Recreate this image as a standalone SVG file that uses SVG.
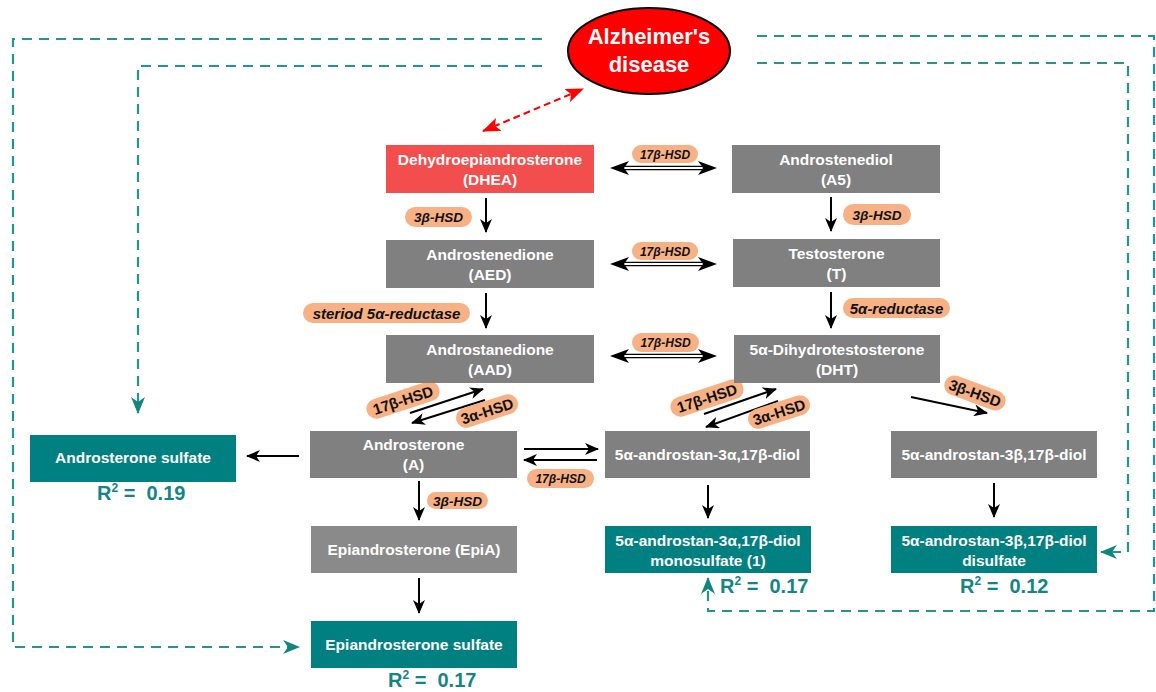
<svg xmlns="http://www.w3.org/2000/svg" width="1156" height="692" viewBox="0 0 1156 692">
<style>
.n{font-family:"Liberation Sans",Arial,sans-serif;font-weight:bold;font-size:15.5px;fill:#ffffff;text-anchor:middle}
.az{font-size:22px}
.g{fill:#808080}
.tl{fill:#008080}
.pill{fill:#F7B184}
.pt{font-family:"Liberation Sans",Arial,sans-serif;font-weight:bold;font-style:italic;fill:#111;text-anchor:middle}
.up{font-style:normal;font-size:15px}
.r2{font-family:"Liberation Sans",Arial,sans-serif;font-weight:bold;font-size:20px;fill:#138585}
.ar{stroke:#000;stroke-width:2;fill:none;marker-end:url(#ah)}
.dt{stroke:#22958f;stroke-width:2.2;fill:none;stroke-dasharray:10,7}
.sh{stroke:#000;stroke-width:1.4}
</style>
<defs>
<marker id="ah" markerUnits="userSpaceOnUse" markerWidth="14" markerHeight="12" refX="13" refY="6" orient="auto"><path d="M0,0 L14,6 L0,12 L4,6 Z" fill="#000"/></marker>
<marker id="aht" markerUnits="userSpaceOnUse" markerWidth="17" markerHeight="14" refX="16" refY="7" orient="auto"><path d="M0,0 L17,7 L0,14 L5,7 Z" fill="#12857f"/></marker>
<marker id="ahr" markerUnits="userSpaceOnUse" markerWidth="18" markerHeight="14" refX="17" refY="7" orient="auto-start-reverse"><path d="M0,0 L18,7 L0,14 L4,7 Z" fill="#ff0000"/></marker>
<g id="dbl">
<line class="sh" x1="624" y1="-1.6" x2="703" y2="-1.6"/>
<line class="sh" x1="624" y1="1.6" x2="703" y2="1.6"/>
<path d="M610,0 L629,-7 L624,0 L629,7 Z M717,0 L698,-7 L703,0 L698,7 Z" fill="#000"/>
</g>
</defs>
<rect width="1156" height="692" fill="#ffffff"/>

<g id="connectors">
<path class="dt" d="M542,39 H13 V647 H299" marker-end="url(#aht)"/>
<path class="dt" d="M542,66 H138 V413" marker-end="url(#aht)"/>
<path class="dt" d="M757,36 H1154 V611 H708 V578" marker-end="url(#aht)"/>
<path class="dt" d="M757,63 H1128 V552 H1101" marker-end="url(#aht)"/>
<path d="M483,131 L583,89" stroke="#ff0000" stroke-width="2" stroke-dasharray="7,4" fill="none" marker-start="url(#ahr)" marker-end="url(#ahr)"/>

<use href="#dbl" y="168"/>
<use href="#dbl" y="264"/>
<use href="#dbl" y="356"/>

<path class="ar" d="M486,198 V232"/>
<path class="ar" d="M486,293 V328"/>
<path class="ar" d="M831,197 V231"/>
<path class="ar" d="M831,292 V328"/>
<path class="ar" d="M419,481 V520"/>
<path class="ar" d="M419,578 V613"/>
<path class="ar" d="M708,485 V518"/>
<path class="ar" d="M994,483 V517"/>
<path class="ar" d="M299,456 H247"/>
<path class="ar" d="M524,449 H598"/>
<path class="ar" d="M597,460 H524"/>
<path class="ar" d="M410,413 L483,389"/>
<path class="ar" d="M485,400 L412,423"/>
<path class="ar" d="M704,414 L776,389"/>
<path class="ar" d="M778,401 L706,427"/>
<path class="ar" d="M911,397 L987,413"/>
</g>

<g id="enzymes">
<rect class="pill" x="632" y="145" width="66" height="18" rx="9"/><text class="pt" x="665" y="158.5" font-size="12">17β-HSD</text>
<rect class="pill" x="632" y="242" width="66" height="18" rx="9"/><text class="pt" x="665" y="255.5" font-size="12">17β-HSD</text>
<rect class="pill" x="632" y="333" width="67" height="19" rx="9.5"/><text class="pt" x="665.5" y="347" font-size="12">17β-HSD</text>
<rect class="pill" x="405" y="207" width="67" height="20" rx="10"/><text class="pt" x="438.5" y="222" font-size="13.5">3β-HSD</text>
<rect class="pill" x="303" y="303" width="167" height="20" rx="10"/><text class="pt" x="386.5" y="318.5" font-size="15">steriod 5α-reductase</text>
<rect class="pill" x="843" y="204" width="68" height="21" rx="10.5"/><text class="pt" x="877" y="219.5" font-size="13.5">3β-HSD</text>
<rect class="pill" x="843" y="298" width="107" height="20" rx="10"/><text class="pt" x="896.5" y="313.5" font-size="15">5α-reductase</text>
<rect class="pill" x="527" y="469" width="67" height="19" rx="9.5"/><text class="pt" x="560.5" y="483" font-size="12">17β-HSD</text>
<rect class="pill" x="427" y="492" width="61" height="17" rx="8.5"/><text class="pt" x="457.5" y="505.5" font-size="13.5">3β-HSD</text>
<g transform="translate(403,400) rotate(-18)"><rect class="pill" x="-38" y="-10" width="76" height="20" rx="10"/><text class="pt up" x="0" y="5.5">17β-HSD</text></g>
<g transform="translate(487,411) rotate(-18)"><rect class="pill" x="-32" y="-10" width="64" height="20" rx="10"/><text class="pt up" x="0" y="5.5">3α-HSD</text></g>
<g transform="translate(707,398) rotate(-18)"><rect class="pill" x="-38" y="-10" width="76" height="20" rx="10"/><text class="pt up" x="0" y="5.5">17β-HSD</text></g>
<g transform="translate(779,412) rotate(-18)"><rect class="pill" x="-32" y="-10" width="64" height="20" rx="10"/><text class="pt up" x="0" y="5.5">3α-HSD</text></g>
<g transform="translate(975,393) rotate(20)"><rect class="pill" x="-32" y="-10" width="64" height="20" rx="10"/><text class="pt up" x="0" y="5.5">3β-HSD</text></g>
</g>

<g id="alzheimers">
<ellipse cx="649" cy="51" rx="81" ry="43" fill="#ff0000" stroke="#000" stroke-width="2"/>
<text class="n az" x="649" y="44">Alzheimer's</text>
<text class="n az" x="649" y="72">disease</text>
</g>

<g id="dhea"><rect x="386" y="145" width="208" height="48" fill="#F24E4E"/><text class="n" x="490" y="165">Dehydroepiandrosterone</text><text class="n" x="490" y="185">(DHEA)</text></g>
<g id="a5"><rect class="g" x="732" y="145" width="208" height="48"/><text class="n" x="836" y="165">Androstenediol</text><text class="n" x="836" y="185">(A5)</text></g>
<g id="aed"><rect class="g" x="386" y="240" width="208" height="48"/><text class="n" x="490" y="260">Androstenedione</text><text class="n" x="490" y="280">(AED)</text></g>
<g id="t"><rect class="g" x="733" y="239" width="207" height="48"/><text class="n" x="836.5" y="259">Testosterone</text><text class="n" x="836.5" y="279">(T)</text></g>
<g id="aad"><rect class="g" x="386" y="335" width="208" height="48"/><text class="n" x="490" y="355">Androstanedione</text><text class="n" x="490" y="375">(AAD)</text></g>
<g id="dht"><rect class="g" x="734" y="335" width="206" height="48"/><text class="n" x="837" y="355">5α-Dihydrotestosterone</text><text class="n" x="837" y="375">(DHT)</text></g>
<g id="a"><rect class="g" x="310" y="431" width="207" height="47"/><text class="n" x="413.5" y="450">Androsterone</text><text class="n" x="413.5" y="470">(A)</text></g>
<g id="diol3a"><rect class="g" x="605" y="431" width="205" height="47"/><text class="n" x="707.5" y="459.5">5α-androstan-3α,17β-diol</text></g>
<g id="diol3b"><rect class="g" x="891" y="431" width="206" height="47"/><text class="n" x="994" y="459.5">5α-androstan-3β,17β-diol</text></g>
<g id="as"><rect class="tl" x="30" y="435" width="206" height="47"/><text class="n" x="133" y="463">Androsterone sulfate</text><text class="r2" x="97" y="500" xml:space="preserve">R<tspan font-size="12" dy="-8">2</tspan><tspan dy="8"> =  0.19</tspan></text></g>
<g id="epia"><rect x="311" y="526" width="206" height="47" fill="#8a8a8a"/><text class="n" x="414" y="555">Epiandrosterone (EpiA)</text></g>
<g id="mono"><rect class="tl" x="605" y="526" width="206" height="47"/><text class="n" x="708" y="546">5α-androstan-3α,17β-diol</text><text class="n" x="708" y="566">monosulfate (1)</text><text class="r2" x="720" y="593" xml:space="preserve">R<tspan font-size="12" dy="-8">2</tspan><tspan dy="8"> =  0.17</tspan></text></g>
<g id="di"><rect class="tl" x="891" y="526" width="206" height="47"/><text class="n" x="994" y="546">5α-androstan-3β,17β-diol</text><text class="n" x="994" y="566">disulfate</text><text class="r2" x="960" y="593" xml:space="preserve">R<tspan font-size="12" dy="-8">2</tspan><tspan dy="8"> =  0.12</tspan></text></g>
<g id="eas"><rect class="tl" x="311" y="621" width="206" height="47"/><text class="n" x="414" y="650">Epiandrosterone sulfate</text><text class="r2" x="388" y="687" xml:space="preserve">R<tspan font-size="12" dy="-8">2</tspan><tspan dy="8"> =  0.17</tspan></text></g>
</svg>
